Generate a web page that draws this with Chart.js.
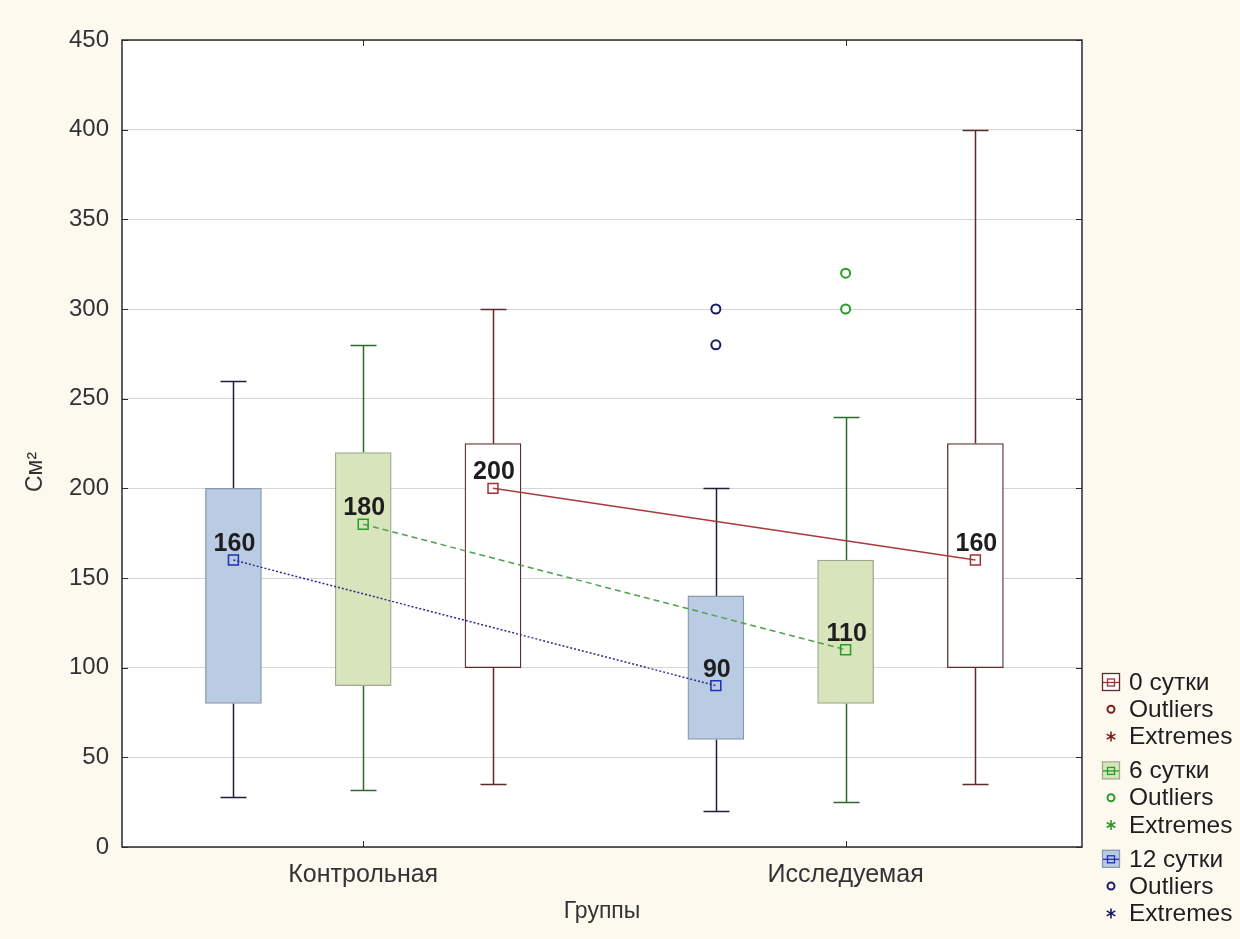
<!DOCTYPE html>
<html><head><meta charset="utf-8">
<script src="https://cdn.jsdelivr.net/npm/chart.js@4"></script>
<style>html,body{margin:0;padding:0;background:#fdf9ef;}#wrap{width:1240px;height:939px;position:relative}</style>
</head><body><div id="wrap"><canvas id="c" width="1240" height="939"></canvas></div>
<script>
// ---- data ----
const groups = ['Контрольная', 'Исследуемая'];
const seriesLabels = ['12 сутки', '6 сутки', '0 сутки'];
const yTicks = [0, 50, 100, 150, 200, 250, 300, 350, 400, 450];

const d12Min = [28, 20];
const d12Q1 = [80, 60];
const d12Q3 = [200, 140];
const d12Max = [260, 200];
const d12Median = [160, 90];
const d12Outliers = [[], [280, 300]];

const d6Min = [32, 25];
const d6Q1 = [90, 80];
const d6Q3 = [220, 160];
const d6Max = [280, 240];
const d6Median = [180, 110];
const d6Outliers = [[], [300, 320]];

const d0Min = [35, 35];
const d0Q1 = [100, 100];
const d0Q3 = [225, 225];
const d0Max = [300, 400];
const d0Median = [200, 160];
const d0Outliers = [[], []];

// ---- layout / styles ----
const OFFSETS = [-0.269, 0, 0.269];
const FONT = '"Liberation Sans", Arial, sans-serif';
const styles = [
  {fill:'#b9cce4', border:'#8797ae', whisk:'#1f1f3a', marker:'#1f2fb8', line:'#2c2c90', dash:[2,2], out:'#1a1a66'},
  {fill:'#d8e4bc', border:'#9ea88c', whisk:'#2c6a2c', marker:'#22a022', line:'#4f9f4f', dash:[6,4], out:'#2a9a2a'},
  {fill:'#ffffff', border:'#5e2a2a', whisk:'#5e2a2a', marker:'#a03232', line:'#a83a3a', dash:[], out:'#7a2020'}
];
const series = [
  {min:d12Min, q1:d12Q1, q3:d12Q3, max:d12Max, med:d12Median, out:d12Outliers},
  {min:d6Min, q1:d6Q1, q3:d6Q3, max:d6Max, med:d6Median, out:d6Outliers},
  {min:d0Min, q1:d0Q1, q3:d0Q3, max:d0Max, med:d0Median, out:d0Outliers}
];
const xPos = (g, s) => g + 0.5 + OFFSETS[s];

const datasets = [];
series.forEach((s, k) => {
  datasets.push({
    type:'bar', label: seriesLabels[k], order: 3, grouped:false, barThickness:56,
    backgroundColor: styles[k].fill, borderColor: styles[k].border, borderWidth:1.3, borderSkipped:false,
    data: groups.map((g, i) => ({x: xPos(i, k), y: [s.q1[i], s.q3[i]]}))
  });
});
series.forEach((s, k) => {
  datasets.push({
    type:'line', label: seriesLabels[k] + ' median', order: 2, showLine:true,
    borderColor: styles[k].line, borderWidth:1.5, borderDash: styles[k].dash,
    pointStyle:'rect', pointRadius:7, pointBorderColor: styles[k].marker, pointBackgroundColor:'rgba(0,0,0,0)', pointBorderWidth:1.5,
    data: groups.map((g, i) => ({x: xPos(i, k), y: s.med[i]}))
  });
});
series.forEach((s, k) => {
  const pts = [];
  groups.forEach((g, i) => s.out[i].forEach(v => pts.push({x: xPos(i, k), y: v})));
  datasets.push({
    type:'line', label: seriesLabels[k] + ' outliers', order: 1, showLine:false,
    pointStyle:'circle', pointRadius:4.5, pointBorderColor: styles[k].out, pointBackgroundColor:'#ffffff', pointBorderWidth:2,
    data: pts
  });
});

const plugin = {
  id:'boxdeco',
  beforeDraw(chart){
    const {ctx, chartArea:a} = chart;
    ctx.save();
    ctx.fillStyle = '#fdf9ef'; ctx.fillRect(0, 0, chart.width, chart.height);
    ctx.fillStyle = '#ffffff'; ctx.fillRect(a.left, a.top, a.right - a.left, a.bottom - a.top);
    ctx.restore();
  },
  beforeDatasetsDraw(chart){
    const {ctx} = chart, xs = chart.scales.x, ys = chart.scales.y;
    ctx.save();
    ctx.lineWidth = 1.5;
    series.forEach((s, k) => {
      ctx.strokeStyle = styles[k].whisk;
      groups.forEach((g, i) => {
        const x = Math.round(xs.getPixelForValue(xPos(i, k))) + 0.5;
        const pairs = [[s.q3[i], s.max[i]], [s.q1[i], s.min[i]]];
        pairs.forEach(([from, to]) => {
          const y1 = ys.getPixelForValue(from), y2 = Math.round(ys.getPixelForValue(to)) + 0.5;
          ctx.beginPath(); ctx.moveTo(x, y1); ctx.lineTo(x, y2);
          ctx.moveTo(x - 13, y2); ctx.lineTo(x + 13, y2); ctx.stroke();
        });
      });
    });
    ctx.restore();
  },
  afterDatasetsDraw(chart){
    const {ctx} = chart, xs = chart.scales.x, ys = chart.scales.y;
    ctx.save();
    ctx.font = 'bold 25px ' + FONT; ctx.fillStyle = '#1e1e1e';
    ctx.textAlign = 'center'; ctx.textBaseline = 'alphabetic';
    series.forEach((s, k) => {
      groups.forEach((g, i) => {
        const x = xs.getPixelForValue(xPos(i, k)), y = ys.getPixelForValue(s.med[i]);
        ctx.fillText(String(s.med[i]), x + 1, y - 9);
      });
    });
    ctx.restore();
  },
  afterDraw(chart){
    const {ctx, chartArea:a} = chart, xs = chart.scales.x, ys = chart.scales.y;
    ctx.save();
    ctx.strokeStyle = '#2a2a2a'; ctx.lineWidth = 1.5;
    ctx.strokeRect(a.left, a.top, a.right - a.left, a.bottom - a.top);
    ctx.lineWidth = 1;
    ctx.beginPath();
    yTicks.forEach(v => {
      const y = Math.round(ys.getPixelForValue(v)) + 0.5;
      ctx.moveTo(a.left, y); ctx.lineTo(a.left + 6, y);
      ctx.moveTo(a.right, y); ctx.lineTo(a.right - 6, y);
    });
    groups.forEach((g, i) => {
      const x = Math.round(xs.getPixelForValue(i + 0.5)) + 0.5;
      ctx.moveTo(x, a.bottom); ctx.lineTo(x, a.bottom - 6);
      ctx.moveTo(x, a.top); ctx.lineTo(x, a.top + 6);
    });
    ctx.stroke();
    // axis titles
    ctx.fillStyle = '#333333';
    ctx.font = '23px ' + FONT; ctx.textAlign = 'center'; ctx.textBaseline = 'middle';
    ctx.fillText('Группы', (a.left + a.right) / 2, 912);
    ctx.save(); ctx.translate(36, 472); ctx.rotate(-Math.PI / 2);
    ctx.fillText('См²', 0, 0); ctx.restore();
    // legend
    const order = [2, 1, 0];
    let y = 682; const step = 27.3, ix = 1111;
    ctx.font = '24.5px ' + FONT; ctx.textAlign = 'left';
    order.forEach(k => {
      const st = styles[k];
      ctx.fillStyle = st.fill; ctx.fillRect(ix - 8, y - 8, 16, 16);
      ctx.strokeStyle = st.border; ctx.lineWidth = 1.3;
      ctx.strokeRect(ix - 8.5, y - 8.5, 17, 17);
      ctx.strokeStyle = st.marker; ctx.lineWidth = 1.3;
      ctx.beginPath(); ctx.moveTo(ix - 8, y + 0.5); ctx.lineTo(ix + 8, y + 0.5); ctx.stroke();
      ctx.strokeRect(ix - 3.5, y - 3, 7, 7);
      ctx.fillStyle = '#1e1e1e'; ctx.fillText(seriesLabels[k], 1129, y + 1);
      y += step;
      ctx.strokeStyle = st.out; ctx.lineWidth = 2;
      ctx.beginPath(); ctx.arc(ix, y, 3.5, 0, Math.PI * 2); ctx.stroke();
      ctx.fillStyle = '#1e1e1e'; ctx.fillText('Outliers', 1129, y + 1);
      y += step;
      ctx.strokeStyle = st.out; ctx.lineWidth = 1.6;
      ctx.beginPath();
      for (let j = 0; j < 3; j++) {
        const ang = Math.PI / 2 + j * Math.PI / 3;
        ctx.moveTo(ix + 5 * Math.cos(ang), y + 5 * Math.sin(ang));
        ctx.lineTo(ix - 5 * Math.cos(ang), y - 5 * Math.sin(ang));
      }
      ctx.stroke();
      ctx.fillStyle = '#1e1e1e'; ctx.fillText('Extremes', 1129, y + 1);
      y += step + 6.5;
    });
    ctx.restore();
  }
};

new Chart(document.getElementById('c'), {
  type:'bar',
  data:{datasets},
  options:{
    responsive:false, animation:false, events:[],
    layout:{padding:{top:40, right:158, left:0, bottom:0}},
    plugins:{legend:{display:false}, tooltip:{enabled:false}},
    scales:{
      x:{type:'linear', min:0, max:1.99, offset:false,
         grid:{display:false, drawTicks:false}, border:{display:false},
         afterBuildTicks: s => { s.ticks = groups.map((g, i) => ({value: i + 0.5})); },
         afterFit: s => { s.height = 92; },
         ticks:{padding:13, color:'#333333', font:{family:FONT, size:25}, maxRotation:0, autoSkip:false,
                callback:(v, i) => groups[i]}},
      y:{type:'linear', min:0, max:450,
         grid:{color:'#d6d6d6', lineWidth:1, drawTicks:false}, border:{display:false},
         afterFit: s => { s.width = 122; },
         afterBuildTicks: s => { s.ticks = yTicks.map(v => ({value:v})); },
         ticks:{padding:13, color:'#333333', font:{family:FONT, size:24}}}
    }
  },
  plugins:[plugin]
});
</script></body></html>
